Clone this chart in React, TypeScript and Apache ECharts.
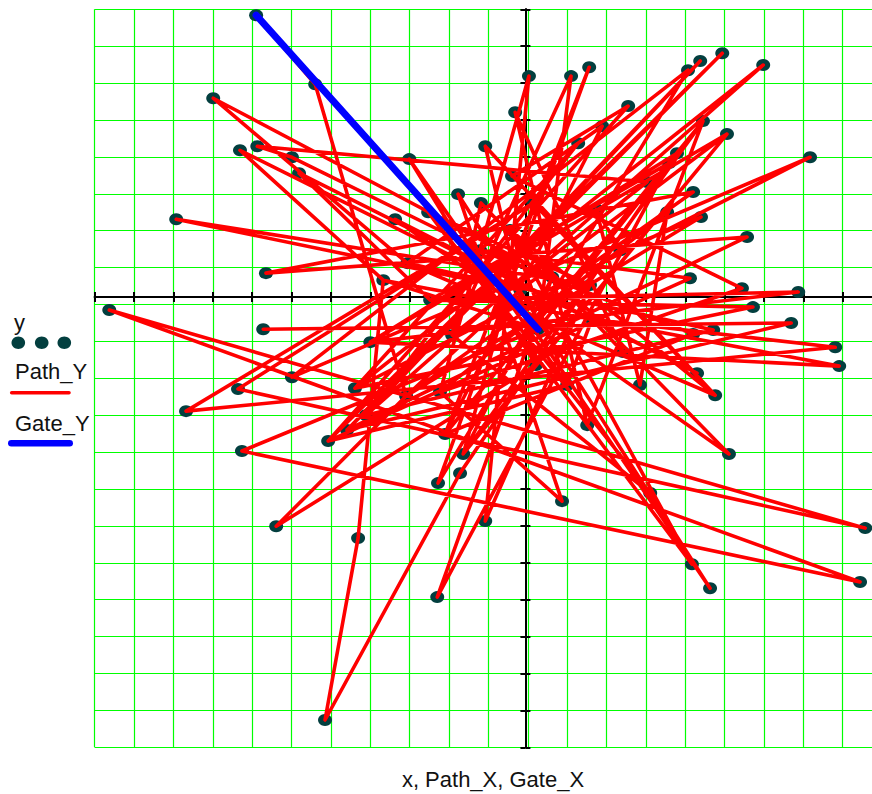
import React, { useEffect, useRef } from "react";
import * as echarts from "echarts";

// Scatter points "y" (x, y) in grid units
const pointX = [
  -6.84, -5.34, -7.93, -7.25, -6.81, -5.93, -5.75, -8.87, -6.59, -10.57,
  -6.66, -5.93, -7.3, -8.62, -7.2, -6.33, -5.09, -4.25, -5.01, -4.53,
  -4.05, -4.33, -3.94, -3.03, -2.17, -2.04, -1.58, -1.66, -2.22, -1.02,
  -2.24, 0.93, 1.57, 1.06, 0.27, 1.69, 2.48, 2.91, 4.36, 4.82,
  5.17, 3.17, 4.23, 4.69, 8.5, 8.63, 4.26, 4.77, 5.78, 6.75,
  7.87, 7.97, 6.93, 5.5, 4.18, 5.63, 4.46, 3.6, 4.26, 1.8,
  3.65, 3.85, 5.12, 4.51, 7.23, 6.04, 5.0, 4.44, 4.13, 2.61,
  1.95, 1.34, 1.62, 1.16, 0.09, -0.26, -1.02, -0.34, -1.71, -1.13,
  0.2, -2.95, -3.31, -2.47, -3.61, -3.0, 0.32, 0.68, 3.09, -1.86,
  -0.13, 1.64, -1.15, 2.41, -0.39, -2.42,
];
const pointY = [
  7.64, 5.77, 5.39, 3.98, 4.09, 3.79, 3.36, 2.11, 0.65, -0.35,
  -0.87, -2.17, -2.49, -3.09, -4.17, -6.21, -11.46, -6.53, -3.9, -3.6,
  -3.2, -2.47, -1.22, -2.68, -2.57, -3.71, -4.25, -4.77, -5.04, -6.07,
  -8.13, -5.53, -3.47, -2.38, -1.84, -0.6, -1.49, -2.38, -2.06, -2.66,
  -4.25, -5.31, -7.24, -7.89, -7.72, -6.26, -1.0, -0.89, -0.27, -0.7,
  -1.36, -1.87, 0.14, 0.24, 0.51, 1.63, 2.17, 2.3, 2.85, 2.38,
  3.63, 3.9, 4.42, 4.77, 3.79, 6.29, 6.61, 6.4, 6.15, 5.18,
  4.63, 4.17, 6.23, 5.99, 5.99, 5.01, 4.09, 3.28, 2.79, 2.55,
  2.55, 3.74, 2.11, 2.3, 0.46, 0.92, -0.87, 0.54, 3.12, -1.03,
  0.19, 0.33, 1.27, 1.27, 1.82, -0.08,
];

// Path_X / Path_Y: the route, as 1-based numbers of the points above
const pathOrder = [
  1, 2, 24, 16, 35, 82, 34, 19, 67, 20, 68, 21, 66, 22, 65, 12, 69, 29, 73, 26,
  64, 27, 63, 23, 62, 28, 17, 18, 85, 4, 91, 8, 92, 30, 75, 25, 32, 79, 44, 93,
  6, 5, 89, 90, 42, 84, 43, 95, 41, 83, 39, 7, 96, 61, 31, 88, 3, 86, 40, 77,
  35, 63, 91, 24, 92, 84, 88, 27, 81, 40, 95, 34, 36, 85, 87, 64,
  33, 76, 37, 80, 90, 74, 87, 15, 45, 10, 46, 13, 81, 14, 51, 36, 52, 23, 53, 96,
  49, 22, 72, 21, 48, 86, 71, 26, 47, 93, 55, 19, 70, 78, 54, 25, 58, 38, 60, 94,
  57, 24, 59, 9, 56, 20, 50, 11,
];

// Gate_X / Gate_Y
const gateX = [-6.84, 0.32];
const gateY = [7.64, -0.87];

const X_MIN = -10.94;
const X_MAX = 9.06;
const Y_MIN = -12.2;
const Y_MAX = 7.8;

const FONT = '"Liberation Sans", Arial, Helvetica, sans-serif';
const DOT = "#033f3f";

export default function App() {
  const ref = useRef<HTMLDivElement>(null);

  useEffect(() => {
    if (!ref.current) return;
    const chart = echarts.init(ref.current, undefined, { renderer: "svg" });

    const scatterData = pointX.map((x, i) => [x, pointY[i]]);
    const pathData = pathOrder.map((n) => [pointX[n - 1], pointY[n - 1]]);
    const gateData = gateX.map((x, i) => [x, gateY[i]]);

    const axisLineStyle = { color: "#000", width: 2 };
    const tickStyle = { color: "#000", width: 2 };

    const baseX = {
      type: "value",
      min: X_MIN,
      max: X_MAX,
      interval: 1,
      axisLabel: { show: false },
      position: "bottom",
    };
    const baseY = {
      type: "value",
      min: Y_MIN,
      max: Y_MAX,
      interval: 1,
      axisLabel: { show: false },
      position: "left",
    };

    chart.setOption({
      animation: false,
      backgroundColor: "#fff",
      grid: {
        left: 94.7,
        top: 9.3,
        width: 787.4,
        height: 738,
        containLabel: false,
        outerBoundsMode: "none",
      },
      xAxis: [
        {
          ...baseX,
          splitLine: { show: true, lineStyle: { color: "#00ff00", width: 1.2 } },
          axisLine: { show: true, onZero: true, onZeroAxisIndex: 0, lineStyle: axisLineStyle },
          axisTick: { show: true, inside: false, length: 5, lineStyle: tickStyle },
        },
        {
          ...baseX,
          splitLine: { show: false },
          axisLine: { show: true, onZero: true, onZeroAxisIndex: 0, lineStyle: axisLineStyle },
          axisTick: { show: true, inside: true, length: 5, lineStyle: tickStyle },
        },
      ],
      yAxis: [
        {
          ...baseY,
          splitLine: { show: true, lineStyle: { color: "#00ff00", width: 1.2 } },
          axisLine: { show: true, onZero: true, onZeroAxisIndex: 0, lineStyle: axisLineStyle },
          axisTick: { show: true, inside: false, length: 5, lineStyle: tickStyle },
        },
        {
          ...baseY,
          splitLine: { show: false },
          axisLine: { show: true, onZero: true, onZeroAxisIndex: 0, lineStyle: axisLineStyle },
          axisTick: { show: true, inside: true, length: 5, lineStyle: tickStyle },
        },
      ],
      series: [
        {
          name: "y",
          type: "scatter",
          xAxisIndex: 0,
          yAxisIndex: 0,
          data: scatterData,
          symbol: "circle",
          symbolSize: [14, 12],
          itemStyle: { color: DOT, opacity: 1 },
          z: 2,
        },
        {
          name: "Path_Y",
          type: "line",
          xAxisIndex: 0,
          yAxisIndex: 0,
          data: pathData,
          showSymbol: false,
          symbol: "none",
          lineStyle: { color: "#ff0000", width: 3.6, join: "round", cap: "round" },
          z: 3,
        },
        {
          name: "Gate_Y",
          type: "line",
          xAxisIndex: 0,
          yAxisIndex: 0,
          data: gateData,
          showSymbol: false,
          symbol: "none",
          lineStyle: { color: "#0000ff", width: 7, cap: "round" },
          z: 4,
        },
      ],
      graphic: [
        {
          type: "text",
          x: 14,
          y: 322,
          style: { text: "y", fontSize: 22, fontFamily: FONT, fill: "#111", align: "left", verticalAlign: "middle" },
        },
        { type: "ellipse", shape: { cx: 18.3, cy: 342.7, rx: 6.8, ry: 6.2 }, style: { fill: DOT } },
        { type: "ellipse", shape: { cx: 41.7, cy: 342.7, rx: 6.8, ry: 6.2 }, style: { fill: DOT } },
        { type: "ellipse", shape: { cx: 64.3, cy: 342.7, rx: 6.8, ry: 6.2 }, style: { fill: DOT } },
        {
          type: "text",
          x: 15,
          y: 371.5,
          style: { text: "Path_Y", fontSize: 22, fontFamily: FONT, fill: "#111", align: "left", verticalAlign: "middle" },
        },
        {
          type: "line",
          shape: { x1: 11.7, y1: 392.7, x2: 69, y2: 392.7 },
          style: { stroke: "#ff0000", lineWidth: 3.6, lineCap: "round" },
        },
        {
          type: "text",
          x: 15,
          y: 423,
          style: { text: "Gate_Y", fontSize: 22, fontFamily: FONT, fill: "#111", align: "left", verticalAlign: "middle" },
        },
        {
          type: "line",
          shape: { x1: 11.3, y1: 443.3, x2: 69.7, y2: 443.3 },
          style: { stroke: "#0000ff", lineWidth: 6.5, lineCap: "round" },
        },
        {
          type: "text",
          x: 493,
          y: 779,
          style: {
            text: "x, Path_X, Gate_X",
            fontSize: 22,
            fontFamily: FONT,
            fill: "#111",
            align: "center",
            verticalAlign: "middle",
          },
        },
      ],
    });

    return () => chart.dispose();
  }, []);

  return (
    <div
      style={{
        position: "fixed",
        left: 0,
        top: 0,
        width: 872,
        height: 794,
        overflow: "hidden",
        background: "#fff",
      }}
    >
      <div ref={ref} style={{ width: 900, height: 794 }} />
    </div>
  );
}
